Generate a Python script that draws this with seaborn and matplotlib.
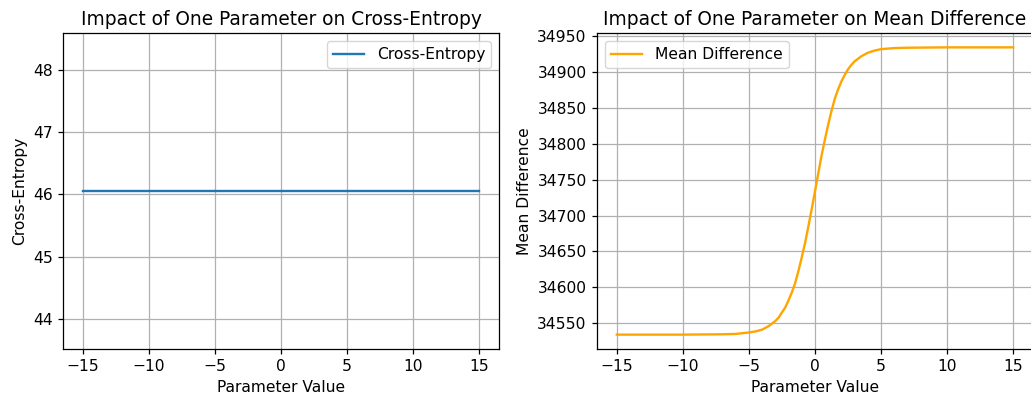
import matplotlib
matplotlib.use("Agg")
import matplotlib.pyplot as plt
import seaborn as sns
import pandas as pd

# Data
ce_x = [-15, -10, -5, 0, 5, 10, 15]
ce_y = [46.05, 46.05, 46.05, 46.05, 46.05, 46.05, 46.05]

md_x = [-15, -10, -7, -6, -5, -4.5, -4, -3.5,
        -3, -2.75, -2.5, -2.25, -2, -1.75, -1.5, -1.25, -1, -0.75, -0.5, -0.25,
        0, 0.25, 0.5, 0.75, 1, 1.25, 1.5, 1.75, 2, 2.25, 2.5, 2.75,
        3, 3.5, 4, 4.5, 5, 6, 7, 10, 15]
md_y = [34534, 34534, 34534.5, 34535, 34537, 34538.5, 34541, 34546,
        34553, 34558, 34565, 34572, 34582, 34593, 34606, 34623, 34642, 34662, 34685, 34709,
        34734, 34759, 34784, 34806, 34827, 34846, 34863, 34876, 34887, 34896, 34904, 34910,
        34915, 34922, 34927, 34930, 34932, 34933.5, 34934, 34934.5, 34934.5]

plt.rcParams['font.family'] = ['DejaVu Sans']
plt.rcParams['grid.linewidth'] = 0.9
plt.rcParams['axes.linewidth'] = 0.9
plt.rcParams['xtick.major.size'] = 3.9
plt.rcParams['ytick.major.size'] = 3.9
plt.rcParams['xtick.major.width'] = 0.9
plt.rcParams['ytick.major.width'] = 0.9

fig = plt.figure(figsize=(10.31, 3.96), dpi=100)
W, H = 1031, 396
ax1 = fig.add_axes([63 / W, (H - 349) / H, 436 / W, 316 / H])
ax2 = fig.add_axes([597 / W, (H - 349) / H, 436 / W, 316 / H])

df1 = pd.DataFrame({"Parameter Value": ce_x, "Cross-Entropy": ce_y})
df2 = pd.DataFrame({"Parameter Value": md_x, "Mean Difference": md_y})

FS = 11.2
sns.lineplot(data=df1, x="Parameter Value", y="Cross-Entropy", ax=ax1,
             color="#1f77b4", linewidth=1.7, label="Cross-Entropy")
ax1.set_ylim(43.52, 48.59)
ax1.set_title("Impact of One Parameter on Cross-Entropy", fontsize=13.4)
ax1.grid(True)
ax1.legend(loc="upper right", fontsize=FS)

sns.lineplot(data=df2, x="Parameter Value", y="Mean Difference", ax=ax2,
             color="orange", linewidth=1.7, label="Mean Difference")
ax2.set_title("Impact of One Parameter on Mean Difference", fontsize=13.4)
ax2.grid(True)
ax2.legend(loc="upper left", fontsize=FS)

for ax in (ax1, ax2):
    ax.set_xticks([-15, -10, -5, 0, 5, 10, 15])
    ax.tick_params(labelsize=FS)
    ax.xaxis.label.set_size(FS)
    ax.yaxis.label.set_size(FS)

fig.savefig("out.png", dpi=100)
